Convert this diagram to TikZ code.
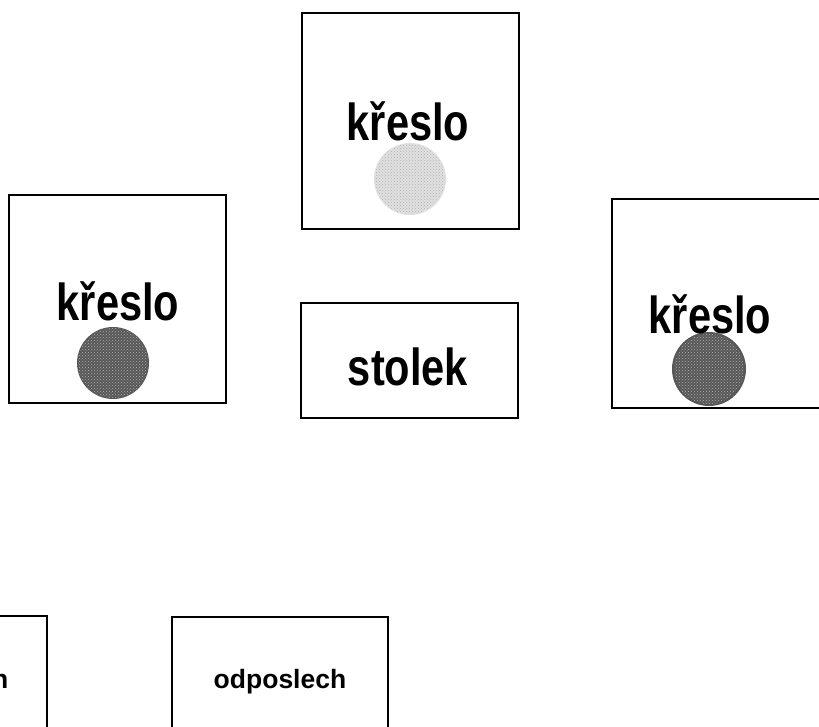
\documentclass[tikz,border=0pt]{standalone}
\usepackage{fontspec}
\setmainfont{Liberation Sans}
\usetikzlibrary{patterns}
\tikzset{box/.style={draw,line width=1.2pt,inner sep=0pt},
  seat/.style={circle,inner sep=0pt,minimum size=72pt},
  velky/.style={font=\bfseries\fontsize{52}{52}\selectfont,inner sep=0pt,anchor=base},
  maly/.style={font=\bfseries\fontsize{26.5}{26.5}\selectfont,inner sep=0pt,anchor=base}}
\newcommand{\schmal}[1]{\scalebox{0.8}[1]{#1}}
\begin{document}
\begin{tikzpicture}[x=1pt,y=-1pt]
\clip (0,0) rectangle (819,726);
\fill[white] (0,0) rectangle (819,726);
% boxes
\node[box,minimum width=217pt,minimum height=216pt] (horni) at (410.5,121) {};
\node[box,minimum width=217pt,minimum height=208pt] (levy) at (117.5,299) {};
\node[box,minimum width=218pt,minimum height=209pt] (pravy) at (721,303.5) {};
\node[box,minimum width=217pt,minimum height=115pt] (stul) at (409.5,360.5) {};
\node[box,minimum width=216pt,minimum height=128pt] (poslech) at (280,681) {};
\node[box,minimum width=216pt,minimum height=129pt] (poslech2) at (-61,680.5) {};
% seats
\node[seat,fill=black!12] (sedH) at (410,179) {};
\node[seat,fill=black!66] (sedL) at (113,363) {};
\node[seat,fill=black!66,minimum size=74pt] (sedP) at (709,369) {};
\foreach \s in {sedH,sedL,sedP}
  \fill[pattern=crosshatch dots,pattern color=white!70!black] (\s) circle (35pt);
% labels
\node[velky] (tH) at (408,140) {\schmal{křeslo}};
\node[velky] (tL) at (118,320) {\schmal{křeslo}};
\node[velky] (tP) at (710,333) {\schmal{křeslo}};
\node[velky] (tS) at (408,385) {\schmal{stolek}};
\node[maly] (tO) at (280,688) {odposlech};
\node[maly] (tO2) at (-58,688) {odposlech};
\end{tikzpicture}
\end{document}
